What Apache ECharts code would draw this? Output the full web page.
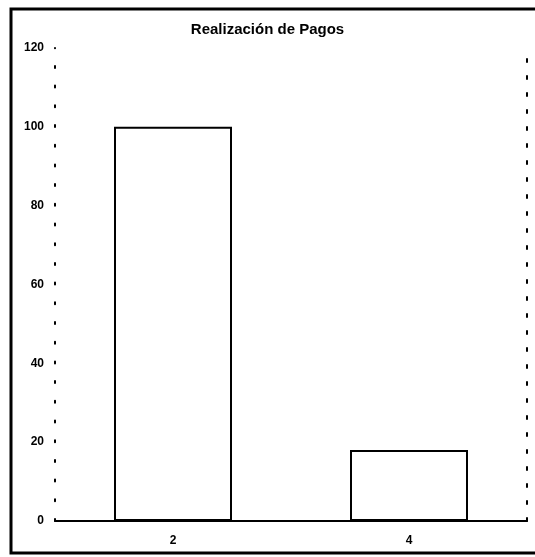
<!DOCTYPE html>
<html>
<head>
<meta charset="utf-8">
<script src="https://cdn.jsdelivr.net/npm/echarts@6/dist/echarts.min.js"></script>
<style>
  html, body { margin: 0; padding: 0; background: #fff; }
  #chart { width: 535px; height: 557px; }
</style>
</head>
<body>
<div id="chart"></div>
<script>
const titleText = 'Realización de Pagos';
const xValues = [2, 4];
const yValues = [100, 18];
const xTicks = [2, 4];
const yMin = 0, yMax = 120, yStep = 20;
const xMin = 1, xMax = 5;

const chart = echarts.init(document.getElementById('chart'));
const fontFam = '"Liberation Sans", Arial, sans-serif';
chart.setOption({
  animation: false,
  backgroundColor: '#fff',
  title: {
    text: titleText,
    left: 'center',
    top: 17,
    textStyle: { fontFamily: fontFam, fontWeight: 'bold', fontSize: 15, color: '#000' }
  },
  graphic: [{
    type: 'rect',
    shape: { x: 11, y: 9, width: 540, height: 544 },
    style: { fill: null, stroke: '#000', lineWidth: 3 },
    silent: true
  }],
  grid: { left: 55, right: 8, top: 48, bottom: 36, containLabel: false },
  xAxis: {
    type: 'value',
    min: xMin, max: xMax, interval: 1,
    splitLine: { show: false },
    axisLine: { show: true, onZero: true, lineStyle: { color: '#000', width: 2 } },
    axisTick: { show: false },
    axisLabel: {
      customValues: xTicks,
      margin: 14,
      fontFamily: fontFam, fontWeight: 'bold', fontSize: 12, color: '#000'
    }
  },
  yAxis: [{
    type: 'value',
    min: yMin, max: yMax, interval: yStep,
    position: 'left',
    splitLine: { show: false },
    axisLine: { show: true, lineStyle: { color: '#000', width: 2, type: [2, 17.7] } },
    axisTick: { show: false },
    axisLabel: { margin: 11, fontFamily: fontFam, fontWeight: 'bold', fontSize: 12, color: '#000' }
  }, {
    type: 'value',
    min: yMin, max: yMax, interval: yStep,
    position: 'right',
    splitLine: { show: false },
    axisLine: { show: true, lineStyle: { color: '#000', width: 2, type: [3, 14] } },
    axisTick: { show: false },
    axisLabel: { show: false }
  }],
  series: [{
    type: 'bar',
    data: xValues.map((x, i) => [x, yValues[i]]),
    barWidth: '50%',
    itemStyle: { color: '#fff', borderColor: '#000', borderWidth: 2 },
    z: 3
  }]
});
</script>
</body>
</html>
